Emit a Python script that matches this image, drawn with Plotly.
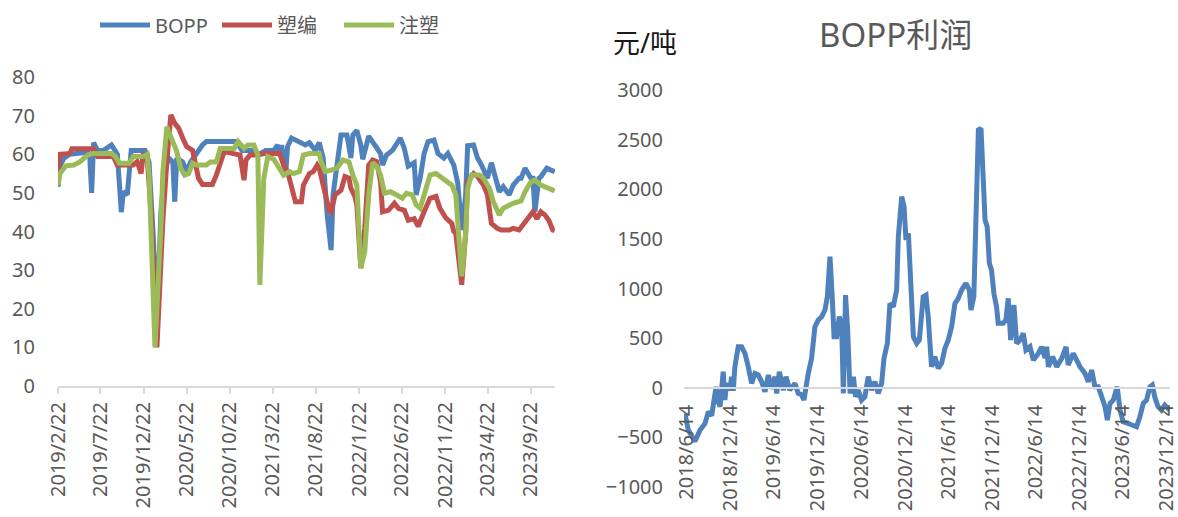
import pandas as pd
import plotly.graph_objects as go

# ---------------- data ----------------
left_ticks = ["2019/2/22", "2019/7/22", "2019/12/22", "2020/5/22", "2020/10/22", "2021/3/22",
              "2021/8/22", "2022/1/22", "2022/6/22", "2022/11/22", "2023/4/22", "2023/9/22"]
right_ticks = ["2018/6/14", "2018/12/14", "2019/6/14", "2019/12/14", "2020/6/14", "2020/12/14",
               "2021/6/14", "2021/12/14", "2022/6/14", "2022/12/14", "2023/6/14", "2023/12/14"]

left_start = "2019-02-22"   # week 0 of the left chart
right_start = "2018-06-14"  # day 0 of the right chart

bopp_week = [0, 1, 3, 6, 15, 16, 17, 18, 20, 23, 27, 29, 30, 32, 33, 35, 37, 44, 46, 48, 50, 52, 53, 54,
             56, 58, 59, 60, 63, 65, 67, 70, 73, 75, 90, 93, 99, 101, 105, 109, 111, 112, 113, 115, 116,
             118, 121, 125, 127, 130, 132, 134, 136, 138, 139, 141, 143, 146, 148, 149, 151, 153, 154,
             157, 159, 163, 164, 166, 169, 173, 175, 177, 180, 181, 183, 185, 187, 190, 192, 195, 197,
             200, 202, 204, 206, 207, 210, 212, 214, 217, 219, 222, 223, 225, 228, 230, 233, 234, 236,
             239, 240, 241, 243, 244, 247, 249, 251]
bopp_rate = [51.6, 57, 59, 60, 60.5, 59.8, 50, 63, 61, 61, 62.4, 61, 60, 45, 50.3, 49.5, 61, 61, 58, 40,
             18, 45, 52.5, 56, 59, 58, 47.7, 59, 58, 55.5, 58, 60.2, 62.4, 63.3, 63.3, 61, 61, 59.8, 61,
             61, 62.4, 59.8, 62.4, 54.6, 62, 64.2, 63.3, 62.4, 63, 61, 63, 59, 44.3, 35.2, 49.5, 58, 65,
             65, 59, 65, 66.2, 62.4, 58.7, 64.7, 63.3, 60.2, 57.2, 59.8, 61, 64.2, 61.5, 56.9, 57.8,
             49.5, 53.8, 60.2, 63.3, 63.7, 60.2, 59, 60.2, 57.2, 52.5, 40.4, 49.5, 62.2, 62.4, 59, 57.2,
             53.8, 57.8, 52.9, 50.3, 51.6, 49.5, 52, 53.8, 53.8, 56.4, 53.8, 53.8, 45.1, 53.8, 54.2,
             56.4, 55.9, 55.5]

sb_week = [0, 1, 6, 7, 18, 20, 28, 30, 38, 40, 42, 43, 45, 47, 50, 53, 55, 57, 59, 61, 63, 65, 68, 69,
           71, 73, 78, 80, 82, 84, 92, 94, 95, 97, 101, 104, 112, 114, 116, 117, 120, 123, 124, 127, 129,
           131, 132, 134, 137, 138, 140, 143, 145, 147, 148, 150, 151, 153, 155, 157, 159, 161, 163, 164,
           167, 170, 172, 175, 177, 180, 182, 185, 188, 191, 193, 196, 199, 200, 201, 204, 206, 207, 210,
           212, 215, 217, 219, 222, 224, 228, 230, 233, 235, 238, 240, 242, 244, 246, 248, 250, 251]
sb_rate = [55.5, 60, 60.2, 61.4, 61.4, 59.4, 59.4, 57.2, 57.2, 58.1, 55, 59.8, 59.8, 45, 10, 43, 58, 70.2,
           68, 66.7, 64.2, 62, 61, 58, 53.8, 52.2, 52.2, 54.6, 58, 60.7, 59.8, 53.3, 58.5, 59.8, 59.8,
           60.2, 60.2, 57.2, 55.5, 53.8, 47.7, 47.7, 52, 55, 55.5, 57.2, 56.4, 52, 45.5, 45.1, 49.5, 50.7,
           54.2, 53.8, 51.2, 49.1, 46.9, 30.5, 40.8, 57.2, 58.5, 58.1, 52.9, 45.1, 45.5, 47.3, 46, 45.5,
           42.9, 43.3, 41.3, 45.1, 48.6, 49.1, 46, 43.5, 42.1, 40, 39.5, 26.2, 39.5, 52.9, 55, 54.2, 52,
           49.5, 42.1, 40.8, 40.4, 40.4, 40.8, 40.4, 41.8, 43.9, 45.1, 43.3, 45.1, 44.3, 42.9, 40.4, 40.2]

zs_week = [0, 1, 4, 8, 11, 15, 18, 27, 29, 31, 36, 38, 43, 45, 46, 49, 52, 53, 55, 58, 60, 62, 64, 66,
           68, 70, 75, 77, 80, 82, 89, 91, 94, 96, 99, 101, 102, 104, 106, 109, 112, 114, 117, 119, 122,
           124, 127, 132, 133, 135, 138, 141, 144, 147, 149, 151, 153, 155, 157, 159, 161, 163, 165, 168,
           171, 174, 176, 179, 181, 183, 186, 188, 191, 193, 197, 199, 201, 202, 204, 206, 207, 209, 213,
           215, 218, 220, 223, 225, 228, 230, 234, 236, 239, 241, 244, 246, 249, 251]
zs_rate = [52, 55, 57, 57.2, 58, 59.8, 60.2, 60.2, 59.4, 57.7, 57.7, 59.4, 59.4, 60, 55, 10, 41, 55.5,
           67.1, 63.7, 60.7, 56.4, 54.6, 55, 57.7, 57.2, 57.2, 58, 58, 61.5, 61.5, 63.3, 61.5, 62.4, 62.4,
           59.8, 26.2, 53.8, 59.4, 58.7, 56.4, 54.6, 55.5, 55, 55.5, 59.8, 60.2, 60.2, 58, 55.5, 55.9,
           56.4, 58.5, 58, 54.6, 52, 30.5, 34.8, 49.5, 57.8, 56.9, 54.6, 49.9, 50.3, 49.5, 48.6, 49.9,
           49.5, 46.9, 46, 51.2, 54.6, 55, 54.2, 52.9, 52, 49.5, 42.5, 28.4, 39.5, 51.2, 54.6, 54.6, 53.8,
           51.2, 47.7, 44.3, 46, 46.9, 47.3, 47.9, 50.3, 52.9, 53.3, 52, 51.6, 50.8, 50.5]

profit_day = [-7, 7, 35, 56, 77, 91, 105, 112, 123, 130, 140, 153, 160, 167, 181, 188, 195, 202, 216,
              230, 244, 258, 272, 286, 300, 314, 328, 342, 356, 370, 377, 388, 405, 416, 432, 453, 467,
              481, 491, 509, 523, 537, 551, 565, 579, 589, 600, 610, 617, 628, 639, 649, 656, 665, 674,
              684, 698, 707, 718, 732, 746, 760, 774, 788, 802, 816, 826, 840, 851, 865, 879, 886, 900,
              910, 918, 928, 942, 949, 963, 974, 990, 1002, 1011, 1025, 1039, 1053, 1067, 1081, 1095,
              1109, 1123, 1137, 1151, 1169, 1183, 1190, 1202, 1214, 1221, 1232, 1239, 1249, 1258, 1267,
              1276, 1286, 1297, 1304, 1325, 1336, 1346, 1356, 1370, 1381, 1395, 1409, 1420, 1437, 1451,
              1472, 1486, 1500, 1507, 1514, 1532, 1549, 1570, 1588, 1597, 1618, 1632, 1646, 1667, 1681,
              1695, 1709, 1723, 1737, 1751, 1761, 1772, 1786, 1802, 1814, 1827, 1848, 1869, 1883, 1897,
              1911, 1925, 1939, 1949, 1959, 1973, 1987, 2001, 2016, 2023]
profit_val = [-260, -427, -540, -427, -360, -242, -280, -158, 10, -124, -191, 161, -124, 44, -24, 111,
              -30, 212, 413, 413, 346, 212, 44, 145, 130, 60, -40, 128, -10, 111, -57, 161, -24, 111, -24,
              44, -57, -70, -124, 145, 296, 615, 682, 716, 783, 917, 1321, 884, 514, 514, 716, 615, -57,
              934, 581, -57, 111, -91, -24, -124, -91, 111, -24, 60, -57, 44, 296, 447, 850, 816, 985,
              1522, 1925, 1825, 1489, 1556, 783, 514, 447, 480, 917, 934, 716, 212, 313, 195, 246, 396,
              481, 615, 850, 901, 985, 1052, 985, 783, 917, 1791, 2597, 2614, 2127, 1690, 1623, 1254,
              1186, 951, 817, 649, 649, 682, 901, 481, 833, 447, 481, 548, 380, 413, 279, 346, 413, 300,
              413, 212, 313, 212, 296, 413, 229, 346, 280, 212, 145, 60, 178, 10, 10, -91, -191, -326,
              -158, -124, 10, -225, -343, -360, -376, -393, -292, -158, -124, 10, 27, -91, -191, -225,
              -175, -208, -225]

# ---------------- helpers ----------------
l0 = pd.Timestamp(left_start)
r0 = pd.Timestamp(right_start)
def weeks_to_dates(ws):
    return [l0 + pd.Timedelta(weeks=w) for w in ws]
def days_to_dates(ds):
    return [r0 + pd.Timedelta(days=d) for d in ds]

W, H = 1178, 517
GREY_TXT = "#595959"
AXIS = "#d9d9d9"
FONT = "Noto Sans, Noto Sans CJK SC, sans-serif"

fig = go.Figure()
series = [("BOPP", bopp_week, bopp_rate, "#4f81bd"),
          ("塑编", sb_week, sb_rate, "#c0504d"),
          ("注塑", zs_week, zs_rate, "#9bbb59")]
for name, wk, val, col in series:
    fig.add_trace(go.Scatter(x=weeks_to_dates(wk), y=val, name=name, mode="lines",
                             line=dict(color=col, width=5), xaxis="x", yaxis="y"))

fig.add_trace(go.Scatter(x=days_to_dates(profit_day), y=profit_val, name="BOPP利润", mode="lines",
                         line=dict(color="#4f81bd", width=5), xaxis="x2", yaxis="y2",
                         showlegend=False))

# plot-area geometry (pixels -> paper)
lx0, lx1, ly_top, ly_bot = 58, 555, 77, 386
rx0, rx1, ry_top, ry_bot = 684, 1170, 90, 487
ry_dom = [(H - ry_bot) / H, (H - ry_top) / H]
zero_pos = ry_dom[0] + (ry_dom[1] - ry_dom[0]) * (0 - (-1000)) / 4000

left_tickvals = [pd.to_datetime(t, format="%Y/%m/%d") for t in left_ticks]
right_tickvals = [pd.to_datetime(t, format="%Y/%m/%d") for t in right_ticks]

fig.update_layout(
    width=W, height=H, margin=dict(l=0, r=0, t=0, b=0, autoexpand=False),
    paper_bgcolor="white", plot_bgcolor="white",
    font=dict(family=FONT, color=GREY_TXT),
    legend=dict(orientation="h", x=95 / W, xanchor="left", y=(H - 25) / H, yanchor="middle",
                font=dict(size=20, color=GREY_TXT), bgcolor="rgba(0,0,0,0)",
                entrywidth=57, entrywidthmode="pixels", itemwidth=50),
    xaxis=dict(domain=[lx0 / W, lx1 / W], anchor="y", type="date", automargin=False,
               range=[l0, l0 + pd.Timedelta(days=1758)],
               tickvals=left_tickvals, ticktext=left_ticks, tickangle=-90,
               tickfont=dict(size=20, color=GREY_TXT), ticklabeloverflow="allow",
               showline=True, linecolor=AXIS, linewidth=2, ticks="outside", ticklen=6,
               tickcolor=AXIS, tickwidth=1.5, showgrid=False, zeroline=False),
    yaxis=dict(domain=[(H - ly_bot) / H, (H - ly_top) / H], anchor="x", range=[0, 80], dtick=10,
               automargin=False,
               tickfont=dict(size=20, color=GREY_TXT), showgrid=False, zeroline=False,
               showline=False, ticks="", ticklabelstandoff=22),
    xaxis2=dict(domain=[rx0 / W, rx1 / W], anchor="free", position=zero_pos, type="date",
                automargin=False,
                range=[r0 - pd.Timedelta(days=11), r0 + pd.Timedelta(days=2023)],
                tickvals=right_tickvals, ticktext=right_ticks, tickangle=-90,
                tickfont=dict(size=20, color=GREY_TXT), ticklabeloverflow="allow",
                showline=True, linecolor=AXIS, linewidth=2, ticks="", ticklabelstandoff=8,
                showgrid=False, zeroline=False),
    yaxis2=dict(domain=ry_dom, anchor="x2", range=[-1000, 3000], dtick=500, automargin=False,
                tickfont=dict(size=20, color=GREY_TXT), showgrid=False, zeroline=False,
                showline=False, ticks="", ticklabelstandoff=20),
    annotations=[
        dict(text="BOPP利润", x=895 / W, y=(H - 35) / H, xref="paper", yref="paper",
             showarrow=False, font=dict(size=33, color=GREY_TXT, family=FONT),
             xanchor="center", yanchor="middle"),
        dict(text="元/吨", x=645 / W, y=(H - 42) / H, xref="paper", yref="paper",
             showarrow=False, font=dict(size=27, color="#1a1a1a", family=FONT),
             xanchor="center", yanchor="middle"),
    ],
)

fig.write_html("out.html")
